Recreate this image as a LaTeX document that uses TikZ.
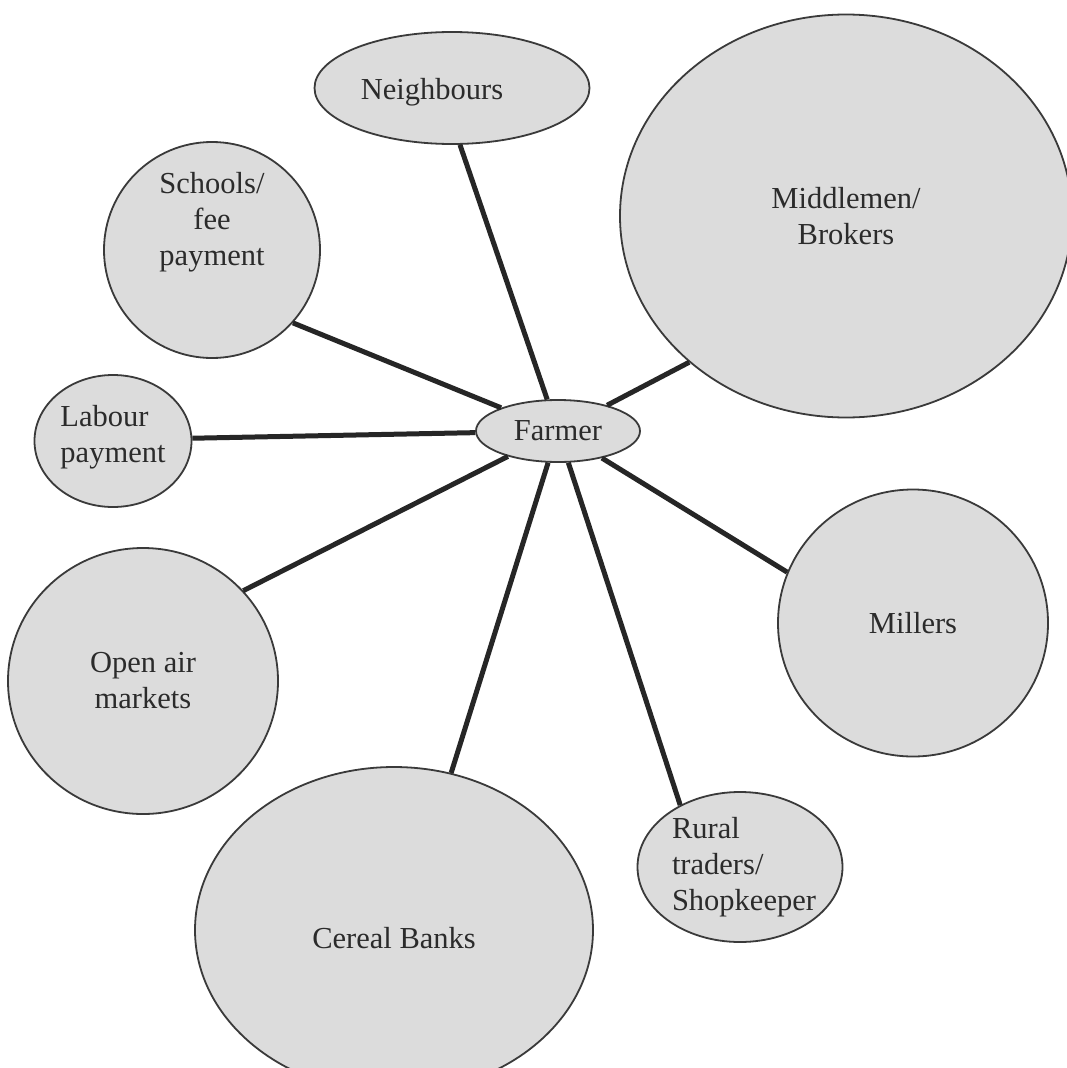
\documentclass[tikz,border=0pt]{standalone}
\usepackage{fontspec}
\setmainfont{Liberation Serif}
\usetikzlibrary{shapes.geometric}
\definecolor{bubblefill}{HTML}{DCDCDC}
\definecolor{edgecol}{HTML}{3A3A3A}
\definecolor{txtcol}{HTML}{2B2B2B}
\definecolor{linkcol}{HTML}{262626}
\begin{document}
\begin{tikzpicture}[x=1pt,y=-1pt,
  bubble/.style={ellipse, draw=edgecol, line width=1.8pt, fill=bubblefill, inner sep=0pt},
  lbl/.style={text=txtcol, font=\fontsize{30.5}{36}\selectfont, align=center, inner sep=0pt},
  link/.style={draw=linkcol, line width=5pt}]
\clip (0,0) rectangle (1067,1068);
\fill[white] (0,0) rectangle (1067,1068);
% bubbles
\node[bubble, minimum width=164pt, minimum height=62pt, label={[lbl]center:Farmer}] (farmer) at (558,431) {};
\node[bubble, minimum width=275pt, minimum height=112pt, label={[lbl, xshift=-20pt, yshift=-4pt]center:Neighbours}] (neigh) at (452,88) {};
\node[bubble, minimum width=216pt, minimum height=216pt, label={[lbl, yshift=28pt]center:{Schools/\\fee\\payment}}] (school) at (212,250) {};
\node[bubble, minimum width=452pt, minimum height=403pt, label={[lbl]center:{Middlemen/\\Brokers}}] (middle) at (846,216) {};
\node[bubble, minimum width=157pt, minimum height=132pt, label={[lbl, align=left, yshift=4pt]center:{Labour\\payment}}] (labour) at (113,441) {};
\node[bubble, minimum width=270pt, minimum height=266pt, label={[lbl]center:{Open air\\markets}}] (open) at (143,681) {};
\node[bubble, minimum width=398pt, minimum height=326pt, label={[lbl, yshift=-8pt]center:Cereal Banks}] (cereal) at (394,930) {};
\node[bubble, minimum width=270pt, minimum height=267pt, label={[lbl]center:Millers}] (millers) at (913,623) {};
\node[bubble, minimum width=205pt, minimum height=150pt, label={[lbl, align=left, xshift=4pt]center:{Rural\\traders/\\Shopkeeper}}] (rural) at (740,867) {};
% connectors
\draw[link] (farmer) -- (neigh.278);
\draw[link] (farmer) -- (school.318);
\draw[link] (farmer) -- (middle.223);
\draw[link] (farmer) -- (labour.2);
\draw[link] (farmer) -- (open.42);
\draw[link] (farmer) -- (cereal.70);
\draw[link] (farmer) -- (rural.134);
\draw[link] (farmer) -- (millers.158);
\end{tikzpicture}
\end{document}
